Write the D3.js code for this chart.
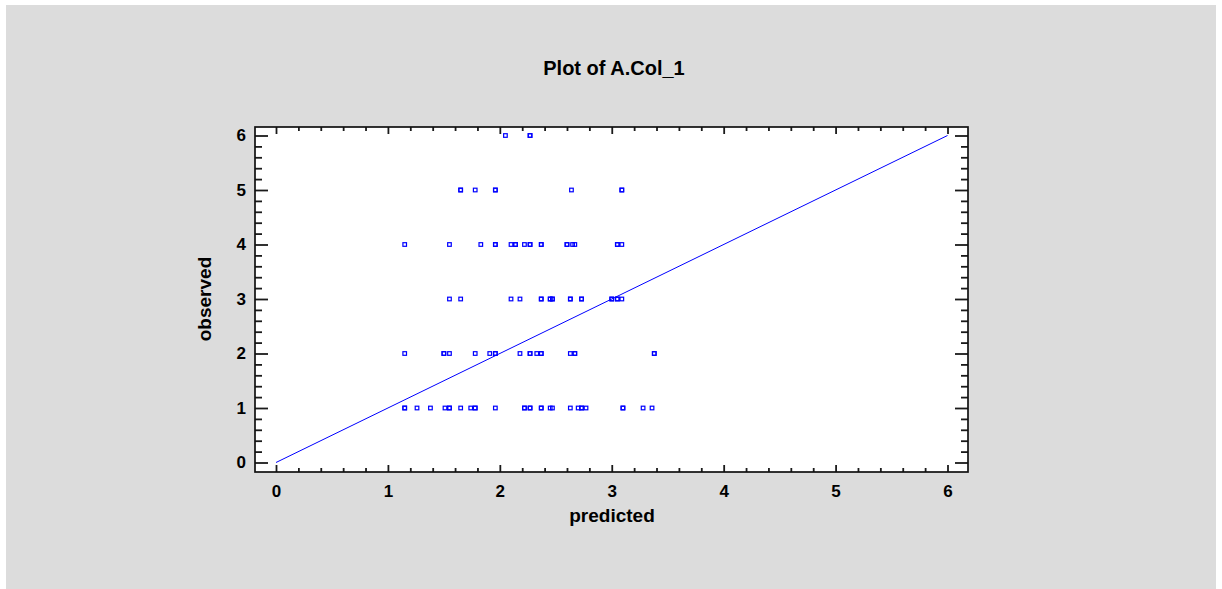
<!DOCTYPE html>
<html>
<head>
<meta charset="utf-8">
<script src="https://cdn.jsdelivr.net/npm/d3@7/dist/d3.min.js"></script>
<style>
  html, body { margin: 0; padding: 0; background: #ffffff; }
  svg { display: block; }
  text { font-family: "Liberation Sans", Arial, sans-serif; font-weight: bold; fill: #000; }
</style>
</head>
<body>
<script>
// Observed vs. predicted pairs, grouped by observed level
const observedLevels = [6, 5, 4, 3, 2, 1];
const predictedAt6 = [2.05, 2.27, 2.27];
const predictedAt5 = [1.65, 1.65, 1.78, 1.96, 1.96, 2.64, 3.09, 3.09];
const predictedAt4 = [1.15, 1.55, 1.83, 1.96, 1.96, 2.10, 2.14, 2.14, 2.22, 2.27, 2.27,
                      2.37, 2.37, 2.60, 2.60, 2.65, 2.67, 3.05, 3.05, 3.09];
const predictedAt3 = [1.55, 1.65, 2.10, 2.18, 2.37, 2.37, 2.45, 2.45, 2.47, 2.47,
                      2.63, 2.63, 2.73, 2.73, 3.00, 3.00, 3.05, 3.05, 3.09];
const predictedAt2 = [1.15, 1.50, 1.50, 1.55, 1.78, 1.91, 1.96, 1.96, 2.18, 2.27, 2.27,
                      2.33, 2.37, 2.37, 2.63, 2.67, 2.67, 3.38, 3.38];
const predictedAt1 = [1.15, 1.15, 1.26, 1.38, 1.51, 1.55, 1.55, 1.65, 1.74, 1.78, 1.78,
                      1.96, 2.22, 2.22, 2.27, 2.27, 2.37, 2.37, 2.45, 2.47, 2.63, 2.70,
                      2.73, 2.73, 2.77, 3.10, 3.10, 3.28, 3.36];
const predictedByLevel = [predictedAt6, predictedAt5, predictedAt4, predictedAt3, predictedAt2, predictedAt1];

// Reference line observed = predicted
const diagonal = [0, 6];

const xTicks = [0, 1, 2, 3, 4, 5, 6];
const yTicks = [0, 1, 2, 3, 4, 5, 6];

const titleText = "Plot of A.Col_1";
const xLabel = "predicted";
const yLabel = "observed";

const W = 1222, H = 589;
const svg = d3.select("body").append("svg").attr("width", W).attr("height", H);

// panel background
svg.append("rect").attr("x", 6).attr("y", 5).attr("width", 1210).attr("height", H - 5)
  .attr("fill", "#dcdcdc");

const frame = { left: 255, right: 968, top: 127, bottom: 472 };
const x = d3.scaleLinear().domain([0, 6]).range([276, 947.5]);
const y = d3.scaleLinear().domain([0, 6]).range([462.5, 135.5]);

svg.append("rect")
  .attr("x", frame.left).attr("y", frame.top)
  .attr("width", frame.right - frame.left).attr("height", frame.bottom - frame.top)
  .attr("fill", "#ffffff");

const minor = d3.range(0, 6.001, 0.2).map(v => +v.toFixed(1)).filter(v => Math.abs(v - Math.round(v)) > 1e-6);

function drawAxis(gen, tx, ty, ticks, size, showLabels) {
  const g = svg.append("g").attr("transform", `translate(${tx},${ty})`)
    .call(gen.tickValues(ticks).tickSize(size).tickPadding(8)
      .tickFormat(showLabels ? d3.format("d") : () => ""));
  g.select(".domain").remove();
  g.selectAll(".tick line").attr("stroke", "#1a1a1a").attr("stroke-width", 1.8);
  g.selectAll(".tick text").style("font-size", "17px").attr("fill", "#000");
  return g;
}

// bottom
const gb = drawAxis(d3.axisBottom(x), 0, frame.bottom, xTicks, -7, true);
gb.selectAll(".tick text").attr("dy", "1.0em");
drawAxis(d3.axisBottom(x), 0, frame.bottom, minor, -4, false);
// top
drawAxis(d3.axisTop(x), 0, frame.top, xTicks, -7, false);
drawAxis(d3.axisTop(x), 0, frame.top, minor, -4, false);
// left
const gl = drawAxis(d3.axisLeft(y), frame.left, 0, yTicks, -13, true);
gl.selectAll(".tick text").attr("x", -9);
drawAxis(d3.axisLeft(y), frame.left, 0, minor, -7, false);
// right
drawAxis(d3.axisRight(y), frame.right, 0, yTicks, -13, false);
drawAxis(d3.axisRight(y), frame.right, 0, minor, -7, false);

svg.append("rect")
  .attr("x", frame.left).attr("y", frame.top)
  .attr("width", frame.right - frame.left).attr("height", frame.bottom - frame.top)
  .attr("fill", "none").attr("stroke", "#111").attr("stroke-width", 1.7);

// diagonal line
svg.append("line")
  .attr("x1", x(diagonal[0])).attr("y1", y(diagonal[0]))
  .attr("x2", x(diagonal[1])).attr("y2", y(diagonal[1]))
  .attr("stroke", "#0000ff").attr("stroke-width", 1);

// points
const pts = [];
predictedByLevel.forEach((arr, i) => arr.forEach(p => pts.push({ p, o: observedLevels[i] })));
svg.append("g").selectAll("rect").data(pts).join("rect")
  .attr("x", d => x(d.p) - 1.8).attr("y", d => y(d.o) - 1.8)
  .attr("width", 3.6).attr("height", 3.6)
  .attr("fill", "none").attr("stroke", "#0000ff").attr("stroke-width", 1.2);

// titles
svg.append("text").attr("x", 614).attr("y", 75).attr("text-anchor", "middle")
  .style("font-size", "20px").text(titleText);
svg.append("text").attr("x", 612).attr("y", 522).attr("text-anchor", "middle")
  .style("font-size", "19px").text(xLabel);
svg.append("text").attr("transform", "translate(211,299) rotate(-90)").attr("text-anchor", "middle")
  .style("font-size", "19px").text(yLabel);
</script>
</body>
</html>
